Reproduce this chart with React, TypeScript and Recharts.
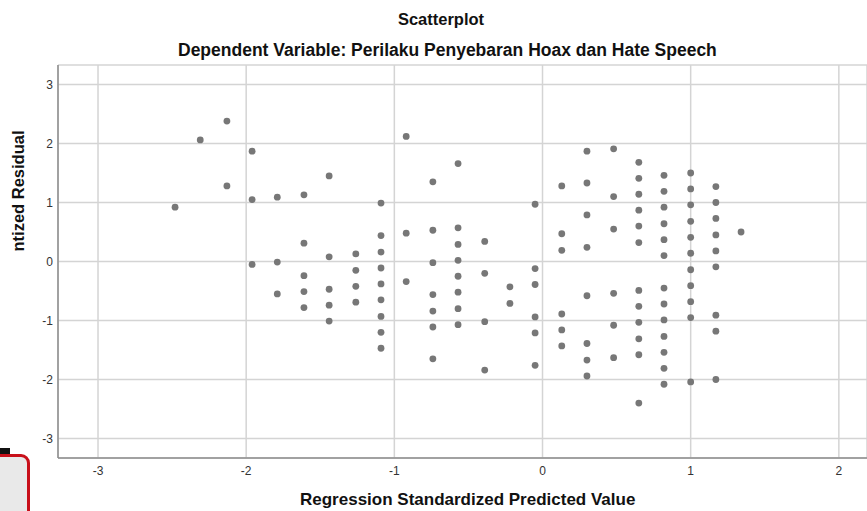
import { ScatterChart, Scatter, XAxis, YAxis, CartesianGrid } from 'recharts'

// predicted value of each column of dots (x)
const predicted = [
  -2.48, -2.31, -2.13, -1.96, -1.79, -1.61, -1.44, -1.26, -1.09, -0.92, -0.74, -0.57,
  -0.39, -0.22, -0.05, 0.13, 0.30, 0.48, 0.65, 0.82, 1.00, 1.17, 1.34,
]

// studentized residuals in each column (y)
const residuals = [
  [0.92],
  [2.06],
  [2.38, 1.28],
  [1.87, 1.05, -0.05],
  [1.09, -0.01, -0.55],
  [1.13, 0.31, -0.24, -0.51, -0.78],
  [1.45, 0.08, -0.47, -0.74, -1.01],
  [0.13, -0.15, -0.42, -0.69],
  [0.99, 0.44, 0.16, -0.11, -0.38, -0.65, -0.93, -1.2, -1.47],
  [2.12, 0.48, -0.34],
  [1.35, 0.53, -0.02, -0.56, -0.84, -1.11, -1.65],
  [1.66, 0.57, 0.29, 0.02, -0.25, -0.52, -0.8, -1.07],
  [0.34, -0.2, -1.02, -1.84],
  [-0.43, -0.71],
  [0.97, -0.12, -0.39, -0.94, -1.21, -1.76],
  [1.28, 0.47, 0.19, -0.89, -1.16, -1.43],
  [1.87, 1.33, 0.79, 0.24, -0.58, -1.39, -1.67, -1.94],
  [1.91, 1.1, 0.55, -0.54, -1.08, -1.63],
  [1.68, 1.41, 1.14, 0.87, 0.6, 0.32, -0.49, -0.76, -1.03, -1.31, -1.58, -2.4],
  [1.46, 1.19, 0.92, 0.64, 0.37, 0.1, -0.45, -0.72, -0.99, -1.27, -1.54, -1.81, -2.08],
  [1.5, 1.23, 0.96, 0.68, 0.41, 0.14, -0.14, -0.41, -0.68, -0.95, -2.04],
  [1.27, 1.0, 0.73, 0.45, 0.18, -0.09, -0.91, -1.18, -2.0],
  [0.5],
]

const xTicks = [-3, -2, -1, 0, 1, 2]
const yTicks = [-3, -2, -1, 0, 1, 2, 3]

const FONT = 'Arial, "Liberation Sans", sans-serif'

const points = predicted.flatMap((x, i) => residuals[i].map(y => ({ x, y })))

const Dot = (props: any) => <circle cx={props.cx} cy={props.cy} r={3.4} fill="#777777" />

export default function App() {
  return (
    <div style={{ position: 'absolute', left: 0, top: 0, width: 867, height: 511, background: '#fff', fontFamily: FONT, overflow: 'hidden' }}>
      <ScatterChart width={867} height={511} margin={{ top: 65, right: 0, bottom: 33, left: 0 }}>
        <CartesianGrid stroke="#d4d4d4" strokeWidth={1.5} />
        <XAxis
          type="number"
          dataKey="x"
          domain={[-3.27, 2.19]}
          ticks={xTicks}
          allowDataOverflow
          height={20}
          axisLine={{ stroke: '#8c8c8c', strokeWidth: 1.5 }}
          tickLine={false}
          tick={{ fill: '#333', fontSize: 12, fontFamily: FONT }}
        />
        <YAxis
          type="number"
          dataKey="y"
          domain={[-3.33, 3.33]}
          ticks={yTicks}
          allowDataOverflow
          width={58}
          axisLine={{ stroke: '#8c8c8c', strokeWidth: 1.5 }}
          tickLine={false}
          tickSize={3}
          tickMargin={2}
          tick={{ fill: '#333', fontSize: 12, fontFamily: FONT }}
        />
        <Scatter data={points} shape={Dot} isAnimationActive={false} />
      </ScatterChart>

      <div style={{ position: 'absolute', left: 0, width: 882, top: 10, textAlign: 'center', fontWeight: 'bold', fontSize: 16.5, color: '#111' }}>
        Scatterplot
      </div>
      <div style={{ position: 'absolute', left: 178, top: 40, fontWeight: 'bold', fontSize: 17.5, color: '#111', whiteSpace: 'nowrap' }}>
        Dependent Variable: Perilaku Penyebaran Hoax dan Hate Speech
      </div>
      <div style={{ position: 'absolute', left: 300, top: 490, fontWeight: 'bold', fontSize: 17, color: '#111', whiteSpace: 'nowrap' }}>
        Regression Standardized Predicted Value
      </div>
      <div
        style={{
          position: 'absolute', left: 18, top: 191, transform: 'translate(-50%, -50%) rotate(-90deg)',
          fontWeight: 'bold', fontSize: 16.5, color: '#111', whiteSpace: 'nowrap',
        }}
      >
        ntized Residual
      </div>

      {/* window thumbnail overlapping the bottom-left corner */}
      <div style={{ position: 'absolute', left: 0, top: 448, width: 10, height: 6, background: '#111' }} />
      <div style={{ position: 'absolute', left: -12, top: 454, width: 36, height: 80, border: '3px solid #c8101a', borderRadius: 9, background: '#e9e9e9' }} />
    </div>
  )
}
